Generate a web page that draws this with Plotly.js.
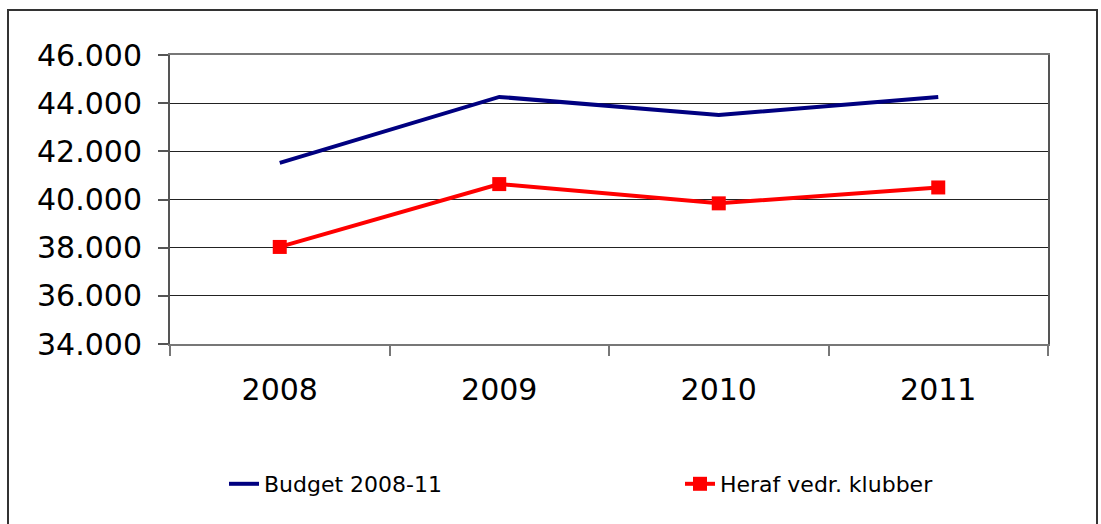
<!DOCTYPE html>
<html>
<head>
<meta charset="utf-8">
<script src="https://cdn.plot.ly/plotly-3.0.1.min.js"></script>
<style>
html,body{margin:0;padding:0;background:#fff;}
#chart{width:1101px;height:524px;}
</style>
</head>
<body>
<div id="chart"></div>
<script>
var years = ['2008', '2009', '2010', '2011'];
var budget = [41520, 44260, 43510, 44260];
var klubber = [38030, 40640, 39840, 40500];
var budgetName = 'Budget 2008-11';
var klubberName = 'Heraf vedr. klubber';

var W = 1101, H = 524;
var L = 170, R = 53, T = 55, B = 180;
var pw = W - L - R, ph = H - T - B;
function px(x){ return (x - L) / pw; }
function py(y){ return (H - B - y) / ph; }
function cx(x){ return x / W; }
function cy(y){ return (H - y) / H; }

var traces = [
  {
    x: years, y: budget, name: budgetName, type: 'scatter', mode: 'lines',
    line: {color: '#000080', width: 4}, legend: 'legend'
  },
  {
    x: years, y: klubber, name: klubberName, type: 'scatter', mode: 'lines+markers',
    line: {color: '#FF0000', width: 4},
    marker: {symbol: 'square', size: 14, color: '#FF0000'},
    legend: 'legend2'
  }
];

var legendFont = {family: 'DejaVu Sans, Verdana, sans-serif', size: 22, color: '#000'};

var layout = {
  width: W, height: H,
  margin: {l: L, r: R, t: T, b: B, pad: 0, autoexpand: false},
  paper_bgcolor: '#fff', plot_bgcolor: '#fff',
  separators: ',.',
  font: {family: 'DejaVu Sans, Verdana, sans-serif', color: '#000'},
  showlegend: true,
  xaxis: {
    type: 'category', range: [-0.5, 3.5], automargin: false,
    tickson: 'boundaries', ticks: 'outside', ticklen: 10, tickwidth: 2, tickcolor: '#777',
    showline: true, linecolor: '#777', linewidth: 2, mirror: true,
    showgrid: false, zeroline: false,
    tickfont: {size: 30, color: '#000'}, ticklabelstandoff: 18
  },
  yaxis: {
    range: [34000, 46000], dtick: 2000, tick0: 34000, tickformat: ',d', automargin: false,
    ticks: 'outside', ticklen: 10, tickwidth: 2, tickcolor: '#555',
    showline: true, linecolor: '#555', linewidth: 2, mirror: true,
    showgrid: true, gridcolor: '#222', gridwidth: 1, zeroline: false,
    tickfont: {size: 30, color: '#000'}, ticklabelstandoff: 10
  },
  legend: {
    orientation: 'h', xref: 'container', yref: 'container',
    x: cx(224), xanchor: 'left', y: cy(484), yanchor: 'middle',
    font: legendFont, bgcolor: 'rgba(0,0,0,0)', borderwidth: 0
  },
  legend2: {
    orientation: 'h', xref: 'container', yref: 'container',
    x: cx(680), xanchor: 'left', y: cy(484), yanchor: 'middle',
    font: legendFont, bgcolor: 'rgba(0,0,0,0)', borderwidth: 0
  },
  shapes: [
    {type: 'rect', xref: 'paper', yref: 'paper',
     x0: px(8), x1: px(1097), y0: py(540), y1: py(10),
     line: {color: '#333', width: 2}, fillcolor: 'rgba(0,0,0,0)', layer: 'below'}
  ]
};

Plotly.newPlot('chart', traces, layout, {displayModeBar: false, staticPlot: true});
</script>
</body>
</html>
